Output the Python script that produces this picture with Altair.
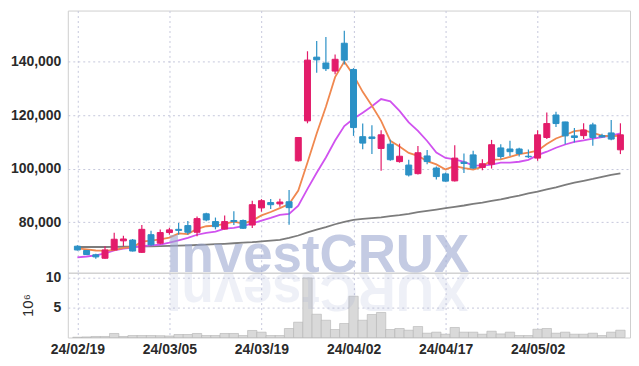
import altair as alt
import pandas as pd

# ---------------- data ----------------
dates = [
    "2024-02-19", "2024-02-20", "2024-02-21", "2024-02-22", "2024-02-23",
    "2024-02-26", "2024-02-27", "2024-02-28", "2024-02-29", "2024-03-04",
    "2024-03-05", "2024-03-06", "2024-03-07", "2024-03-08", "2024-03-11",
    "2024-03-12", "2024-03-13", "2024-03-14", "2024-03-15", "2024-03-18",
    "2024-03-19", "2024-03-20", "2024-03-21", "2024-03-22", "2024-03-25",
    "2024-03-26", "2024-03-27", "2024-03-28", "2024-03-29", "2024-04-01",
    "2024-04-02", "2024-04-03", "2024-04-04", "2024-04-05", "2024-04-08",
    "2024-04-09", "2024-04-11", "2024-04-12", "2024-04-15", "2024-04-16",
    "2024-04-17", "2024-04-18", "2024-04-19", "2024-04-22", "2024-04-23",
    "2024-04-24", "2024-04-25", "2024-04-26", "2024-04-29", "2024-04-30",
    "2024-05-02", "2024-05-03", "2024-05-07", "2024-05-08", "2024-05-09",
    "2024-05-10", "2024-05-13", "2024-05-14", "2024-05-16", "2024-05-17",
]

opens = [
    71100, 69500, 67900, 66600, 69700, 73100, 73400, 68800, 75400, 72200,
    76200, 77400, 78800, 76300, 83200, 80300, 77500, 80700, 80700, 79000,
    85400, 87400, 86900, 87700, 103000, 117900, 141700, 139500, 136500, 146900,
    137100, 112000, 111900, 107600, 109200, 102700, 101400, 98200, 104800, 100300,
    98100, 95500, 102500, 105200, 100500, 101700, 107800, 107400, 107400, 104700,
    104000, 111700, 120100, 117500, 112300, 112400, 116400, 112400, 113400, 107100,
]
highs = [
    71500, 69600, 68300, 71100, 76100, 75000, 73800, 79000, 76900, 77300,
    78000, 79800, 80500, 82200, 83600, 81800, 82600, 84200, 81100, 88100,
    88700, 88700, 88800, 92100, 111900, 143900, 147700, 149200, 142700, 151600,
    137600, 116900, 116300, 114400, 110900, 109400, 103400, 108500, 107000, 100900,
    98600, 108800, 105700, 106700, 103600, 110800, 109200, 110500, 107900, 107200,
    114400, 121000, 121300, 117600, 115200, 117000, 117200, 113100, 118200, 117000,
]
lows = [
    69500, 67800, 66400, 66400, 69500, 71100, 69100, 68600, 71300, 71800,
    75400, 75400, 75500, 74800, 80400, 77400, 77300, 79000, 77500, 77900,
    84000, 85000, 85800, 79100, 102700, 117000, 135900, 136500, 135300, 139000,
    112300, 107300, 105500, 99300, 103000, 102300, 97100, 97900, 101700, 96000,
    95200, 95300, 98400, 99900, 99500, 100100, 103800, 104800, 104600, 104000,
    103000, 111100, 115600, 109200, 109800, 111100, 108600, 111700, 110700, 105500,
]
closes = [
    69700, 68000, 67100, 69700, 73700, 73800, 69300, 77400, 71600, 76200,
    77200, 77000, 76300, 81400, 80900, 78400, 80300, 80300, 77800, 86600,
    88100, 86600, 87600, 85500, 111700, 140600, 140700, 137400, 140900, 140600,
    115400, 109600, 111300, 112700, 103400, 104700, 97700, 106000, 102700, 97100,
    95400, 104000, 102000, 100300, 101900, 109000, 104600, 106400, 105700, 104500,
    112700, 116900, 116900, 112300, 111700, 114500, 111700, 111900, 111100, 112700,
]
# trading volume, in millions of shares (axis unit 10^6)
volumes_m = [
    0.05, 0.10, 0.17, 0.17, 0.67, 0.17, 0.33, 0.33, 0.33, 0.30,
    0.25, 0.50, 0.50, 0.67, 0.33, 0.33, 0.67, 0.67, 0.33, 1.17,
    0.89, 0.33, 0.33, 1.50, 2.55, 9.93, 3.88, 2.88, 1.33, 2.33,
    6.88, 2.88, 3.83, 4.17, 1.33, 1.50, 1.22, 1.83, 0.72, 0.89,
    0.55, 1.67, 0.89, 0.89, 0.55, 1.05, 0.60, 0.89, 0.33, 0.33,
    1.38, 1.50, 0.72, 0.89, 0.55, 0.55, 0.72, 0.33, 0.89, 1.22,
]
ma5 = [
    70300, 69900, 69500, 69450, 69640, 70460, 70740, 72790, 73160, 73660,
    74330, 75870, 75640, 77600, 78550, 78790, 79440, 80240, 79520, 80660,
    82590, 83860, 85330, 86870, 91880, 102380, 113200, 123150, 134230, 140020,
    134970, 128750, 123530, 117900, 110450, 108320, 105930, 104870, 102880, 101640,
    99770, 101040, 100240, 99750, 100700, 103420, 103540, 104440, 105520, 106050,
    106770, 109230, 111310, 112630, 114070, 114440, 113400, 112410, 112160, 112360,
]
ma10 = [
    66950, 67250, 67650, 68400, 69500, 70200, 70600, 71100, 71400, 71650,
    72400, 73300, 74220, 75380, 76110, 76560, 77650, 77940, 78560, 79600,
    80690, 81650, 82780, 83190, 86270, 92490, 98530, 104240, 110550, 115950,
    118680, 120980, 123340, 126060, 125230, 121650, 117340, 114200, 110390, 106040,
    104050, 103490, 102560, 101320, 101170, 101600, 102290, 102340, 102640, 103370,
    105100, 106390, 107870, 109080, 110060, 110600, 111310, 111860, 112400, 113220,
]
ma60 = [
    70800, 70800, 70800, 70800, 70850, 70900, 70950, 71000, 71050, 71100,
    71200, 71300, 71400, 71550, 71700, 71850, 72000, 72200, 72400, 72600,
    72900, 73200, 73500, 74200, 75100, 76300, 77300, 78200, 79300, 80200,
    80900, 81300, 81600, 81900, 82300, 82700, 83200, 83800, 84300, 84800,
    85300, 85800, 86300, 86900, 87400, 88000, 88600, 89300, 90000, 90800,
    91500, 92300, 93100, 94000, 94800, 95500, 96200, 97000, 97700, 98300,
]
tick_idx = [0, 10, 20, 30, 40, 50]
price_ticks = [80000, 100000, 120000, 140000]
volume_ticks = [5, 10]
watermark = "InvestCRUX"

# ---------------- styling ----------------
PINK = "#e31c6a"
BLUE = "#2b91c6"
ORANGE = "#f0884f"
PURPLE = "#d052ef"
GRAY = "#7c7c7c"
GRID = "#c6c8dc"
FONT = "Liberation Sans"
WM_COLOR = "#9aa6d0"

n = len(dates)
df = pd.DataFrame({
    "i": list(range(n)), "date": dates,
    "open": opens, "high": highs, "low": lows, "close": closes,
    "vol": volumes_m, "ma5": ma5, "ma10": ma10, "ma60": ma60,
})
df["dir"] = ["up" if c >= o else "down" for o, c in zip(opens, closes)]


def short(d):
    return d[2:4] + "/" + d[5:7] + "/" + d[8:10]


label_expr = "''"
for k in reversed(tick_idx):
    label_expr = f"datum.value == {k} ? '{short(dates[k])}' : ({label_expr})"

xscale = alt.Scale(domain=[-0.5, n - 0.5], nice=False, zero=False)
pscale = alt.Scale(domain=[61200, 159100], nice=False, zero=False)
vscale = alt.Scale(domain=[0, 10.8], nice=False, zero=False)
cscale = alt.Scale(domain=["up", "down"], range=[PINK, BLUE])

x_price = alt.X("i:Q", scale=xscale,
                axis=alt.Axis(values=tick_idx, labels=False, ticks=False,
                              domain=False, grid=True, title=None))
y_axis = alt.Axis(values=price_ticks, format=",d", title=None, ticks=False,
                  domain=False, labelPadding=7, grid=True)

base = alt.Chart(df)

wm = alt.Chart(pd.DataFrame({"t": [watermark]})).mark_text(
    font="Liberation Sans", fontWeight="bold", fontSize=53,
    color=WM_COLOR, opacity=0.58, align="center", baseline="alphabetic",
).encode(text="t:N", x=alt.value(251), y=alt.value(262))


def ma_line(field, color):
    return base.mark_line(color=color, strokeWidth=1.8).encode(
        x=x_price, y=alt.Y(f"{field}:Q", scale=pscale, axis=y_axis))


wicks = base.mark_rule(strokeWidth=1.2).encode(
    x=x_price,
    y=alt.Y("low:Q", scale=pscale, axis=y_axis), y2="high:Q",
    color=alt.Color("dir:N", scale=cscale, legend=None),
)
bodies = base.mark_bar(size=6, strokeWidth=1).encode(
    x=x_price,
    y=alt.Y("open:Q", scale=pscale, axis=y_axis), y2="close:Q",
    color=alt.Color("dir:N", scale=cscale, legend=None),
    stroke=alt.Stroke("dir:N", scale=cscale, legend=None),
)

price = alt.layer(
    ma_line("ma60", GRAY), ma_line("ma10", PURPLE), ma_line("ma5", ORANGE),
    wicks, bodies, wm,
).properties(width=564, height=263)

x_vol = alt.X("i:Q", scale=xscale,
              axis=alt.Axis(values=tick_idx, labelExpr=label_expr, ticks=False,
                            domain=False, grid=True, title=None, labelPadding=5))
vbars = base.mark_bar(size=9.4, fill="#d9d9d9", stroke="#b3b3b3",
                      strokeWidth=0.6).encode(
    x=x_vol,
    y=alt.Y("vol:Q", scale=vscale,
            axis=alt.Axis(values=volume_ticks, title="10⁶", ticks=False,
                          domain=False, labelPadding=7, grid=True,
                          titleFontWeight="normal", titleFontSize=15,
                          titlePadding=10)),
)
refl = alt.Chart(pd.DataFrame({"t": [watermark[::-1]]})).mark_text(
    font="Liberation Sans", fontWeight="bold", fontSize=53,
    color=WM_COLOR, opacity=0.16, align="center", baseline="alphabetic",
    angle=180,
).encode(text="t:N", x=alt.value(251), y=alt.value(1))

volume = alt.layer(vbars, refl).properties(width=564, height=65)

chart = alt.vconcat(price, volume, spacing=0, bounds="flush").properties(
    padding={"left": 1, "top": 1, "right": 0, "bottom": 2}
).configure_view(
    stroke="#cfcfcf", strokeWidth=1
).configure_axis(
    gridColor=GRID, gridDash=[2, 3], gridWidth=1,
    labelFont=FONT, labelFontSize=14, labelFontWeight="bold",
    labelColor="#2a2a2a",
    titleFont=FONT, titleColor="#2a2a2a",
)

chart.save("out.html", embed_options={"renderer": "svg", "actions": False})
